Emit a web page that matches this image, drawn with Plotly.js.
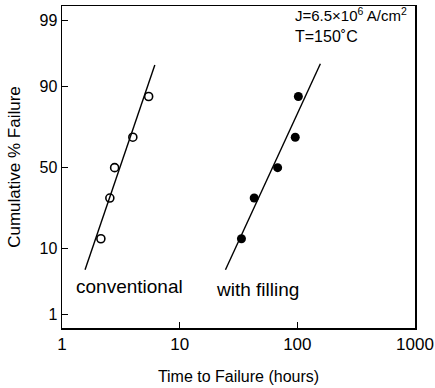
<!DOCTYPE html>
<html>
<head>
<meta charset="utf-8">
<script src="https://cdn.plot.ly/plotly-3.0.1.min.js"></script>
<style>html,body{margin:0;padding:0;background:#fff;}#chart{width:435px;height:388px;}</style>
</head>
<body>
<div id="chart"></div>
<script>
// Data
const convTime = [2.14, 2.55, 2.8, 4.0, 5.45];
const convPct = [13, 31.5, 50, 68.5, 87];
const fillTime = [33.5, 43, 68, 96, 102];
const fillPct = [13, 31.5, 50, 68.5, 87];
const convFitTime = [1.57, 6.15];
const convFitPct = [5.3, 94.8];
const fillFitTime = [24.5, 157];
const fillFitPct = [5.3, 95];
const yTickPct = [1, 10, 50, 90, 99];
const yTickLabels = ['1', '10', '50', '90', '99'];
const xTickVals = [1, 10, 100, 1000];
const xTickLabels = ['1', '10', '100', '1000'];

// inverse standard normal CDF (probability-paper scale)
function probit(pct) {
  const p = pct / 100;
  const a = [-3.969683028665376e+01, 2.209460984245205e+02, -2.759285104469687e+02, 1.383577518672690e+02, -3.066479806614716e+01, 2.506628277459239e+00];
  const b = [-5.447609879822406e+01, 1.615858368580409e+02, -1.556989798598866e+02, 6.680131188771972e+01, -1.328068155288572e+01];
  const c = [-7.784894002430293e-03, -3.223964580411365e-01, -2.400758277161838e+00, -2.549732539343734e+00, 4.374664141464968e+00, 2.938163982698783e+00];
  const d = [7.784695709041462e-03, 3.224671290700398e-01, 2.445134137142996e+00, 3.754408661907416e+00];
  const pl = 0.02425, ph = 1 - pl;
  let q, r;
  if (p < pl) {
    q = Math.sqrt(-2 * Math.log(p));
    return (((((c[0]*q+c[1])*q+c[2])*q+c[3])*q+c[4])*q+c[5]) / ((((d[0]*q+d[1])*q+d[2])*q+d[3])*q+1);
  } else if (p <= ph) {
    q = p - 0.5; r = q * q;
    return (((((a[0]*r+a[1])*r+a[2])*r+a[3])*r+a[4])*r+a[5])*q / (((((b[0]*r+b[1])*r+b[2])*r+b[3])*r+b[4])*r+1);
  } else {
    q = Math.sqrt(-2 * Math.log(1 - p));
    return -(((((c[0]*q+c[1])*q+c[2])*q+c[3])*q+c[4])*q+c[5]) / ((((d[0]*q+d[1])*q+d[2])*q+d[3])*q+1);
  }
}

const font = 'Liberation Sans, Arial, sans-serif';
const traces = [
  {x: convFitTime, y: convFitPct.map(probit), mode: 'lines', line: {color: '#000', width: 1.4}, hoverinfo: 'skip'},
  {x: fillFitTime, y: fillFitPct.map(probit), mode: 'lines', line: {color: '#000', width: 1.4}, hoverinfo: 'skip'},
  {x: convTime, y: convPct.map(probit), mode: 'markers', marker: {symbol: 'circle-open', size: 8, color: '#000', line: {width: 1.6, color: '#000'}}},
  {x: fillTime, y: fillPct.map(probit), mode: 'markers', marker: {symbol: 'circle', size: 9, color: '#000'}}
];

const layout = {
  width: 435, height: 388,
  margin: {l: 62, r: 20, t: 6, b: 60},
  paper_bgcolor: '#fff', plot_bgcolor: '#fff',
  showlegend: false,
  font: {family: font, color: '#000', size: 15},
  xaxis: {
    type: 'log', range: [0, 3],
    tickvals: xTickVals, ticktext: xTickLabels,
    ticks: 'inside', ticklen: 6, tickwidth: 1.2, tickcolor: '#000',
    showline: true, linecolor: '#000', linewidth: 1.5, mirror: true,
    showgrid: false, zeroline: false,
    tickfont: {size: 17, family: font},
    title: {text: 'Time to Failure (hours)', font: {size: 16, family: font}, standoff: 18}
  },
  yaxis: {
    range: [-2.54, 2.56],
    tickvals: yTickPct.map(probit), ticktext: yTickLabels,
    ticks: 'inside', ticklen: 6, tickwidth: 1.2, tickcolor: '#000',
    showline: true, linecolor: '#000', linewidth: 1.5, mirror: true,
    showgrid: false, zeroline: false,
    tickfont: {size: 16, family: font},
    title: {text: 'Cumulative % Failure', font: {size: 17, family: font}, standoff: 14}
  },
  annotations: [
    {xref: 'paper', yref: 'paper', x: 0.655, y: 0.975, xanchor: 'left', yanchor: 'middle', showarrow: false,
     text: 'J=6.5\u00D710<sup>6</sup> A/cm<sup>2</sup>', font: {size: 15, family: font}},
    {xref: 'paper', yref: 'paper', x: 0.655, y: 0.905, xanchor: 'left', yanchor: 'middle', showarrow: false,
     text: 'T=150\u02DAC', font: {size: 16, family: font}},
    {xref: 'paper', yref: 'paper', x: 0.035, y: 0.13, xanchor: 'left', yanchor: 'middle', showarrow: false,
     text: 'conventional', font: {size: 19, family: font}},
    {xref: 'paper', yref: 'paper', x: 0.43, y: 0.12, xanchor: 'left', yanchor: 'middle', showarrow: false,
     text: 'with filling', font: {size: 19, family: font}}
  ]
};

Plotly.newPlot('chart', traces, layout, {staticPlot: true, displayModeBar: false});
</script>
</body>
</html>
